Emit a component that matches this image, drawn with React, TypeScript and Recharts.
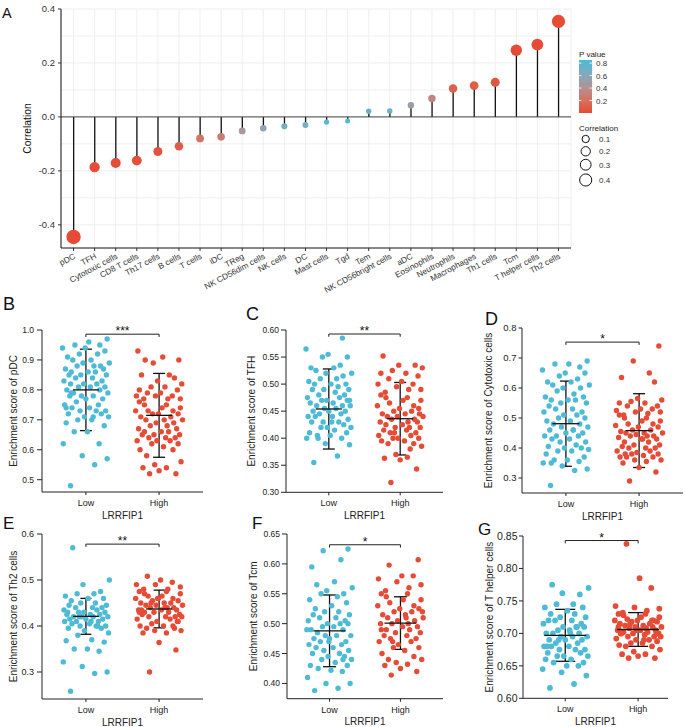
import React from 'react';
import {
  ComposedChart,
  ScatterChart,
  Scatter,
  Bar,
  Line,
  XAxis,
  YAxis,
  CartesianGrid,
  ReferenceLine,
  ReferenceArea,
  ErrorBar,
  Label,
} from 'recharts';

const FONT = '"Liberation Sans", Arial, Helvetica, sans-serif';
const BLUE = '#4DBBD5';
const RED = '#E64B35';

// ---- panel A: correlation lollipop ----
const cellTypes = [
  'pDC', 'TFH', 'Cytotoxic cells', 'CD8 T cells', 'Th17 cells', 'B cells', 'T cells', 'iDC',
  'TReg', 'NK CD56dim cells', 'NK cells', 'DC', 'Mast cells', 'Tgd', 'Tem', 'NK CD56bright cells',
  'aDC', 'Eosinophils', 'Neutrophils', 'Macrophages', 'Th1 cells', 'Tcm', 'T helper cells', 'Th2 cells',
];
const correlation = [
  -0.445, -0.186, -0.171, -0.162, -0.128, -0.109, -0.08, -0.074,
  -0.052, -0.042, -0.035, -0.03, -0.019, -0.015, 0.021, 0.022,
  0.043, 0.068, 0.105, 0.116, 0.128, 0.247, 0.268, 0.354,
];
const pValue = [
  0.0, 0.005, 0.01, 0.014, 0.05, 0.1, 0.22, 0.27,
  0.45, 0.55, 0.66, 0.7, 0.8, 0.85, 0.74, 0.72,
  0.52, 0.32, 0.12, 0.09, 0.06, 0.0, 0.0, 0.0,
];
const corTicks = [-0.4, -0.2, 0, 0.2, 0.4];
const corGrid = [-0.4, -0.3, -0.2, -0.1, 0, 0.1, 0.2, 0.3, 0.4];
const pLegendTicks = [0.8, 0.6, 0.4, 0.2];
const corLegendValues = [0.1, 0.2, 0.3, 0.4];

// ---- panels B-G: enrichment scores by LRRFIP1 group ----
const groupNames = ['Low', 'High'];

const pdcLow = [0.48, 0.55, 0.57, 0.58, 0.62, 0.62, 0.66, 0.66, 0.68, 0.69, 0.7, 0.7, 0.71, 0.71, 0.72, 0.72, 0.73, 0.73, 0.73, 0.74, 0.74, 0.75, 0.75, 0.76, 0.77, 0.77, 0.78, 0.78, 0.78, 0.79, 0.79, 0.8, 0.8, 0.81, 0.81, 0.81, 0.82, 0.82, 0.83, 0.83, 0.84, 0.84, 0.85, 0.85, 0.85, 0.86, 0.86, 0.86, 0.87, 0.87, 0.88, 0.88, 0.88, 0.89, 0.89, 0.9, 0.9, 0.91, 0.92, 0.92, 0.93, 0.94, 0.94, 0.95, 0.95, 0.96, 0.97, 0.79, 0.71, 0.74, 0.82];
const pdcHigh = [0.52, 0.52, 0.53, 0.54, 0.54, 0.55, 0.56, 0.58, 0.6, 0.6, 0.61, 0.62, 0.62, 0.63, 0.63, 0.63, 0.64, 0.64, 0.64, 0.65, 0.65, 0.65, 0.66, 0.66, 0.66, 0.67, 0.67, 0.68, 0.68, 0.69, 0.69, 0.7, 0.7, 0.7, 0.71, 0.71, 0.72, 0.72, 0.72, 0.73, 0.73, 0.73, 0.74, 0.74, 0.75, 0.75, 0.76, 0.77, 0.77, 0.77, 0.78, 0.78, 0.78, 0.79, 0.79, 0.8, 0.8, 0.81, 0.81, 0.82, 0.83, 0.84, 0.85, 0.85, 0.89, 0.9, 0.9, 0.91, 0.93];
const pdcMeanSd = [[0.8, 0.136], [0.715, 0.14]];

const tfhLow = [0.355, 0.367, 0.388, 0.39, 0.4, 0.4, 0.405, 0.405, 0.41, 0.41, 0.415, 0.42, 0.42, 0.42, 0.425, 0.43, 0.43, 0.43, 0.435, 0.44, 0.44, 0.44, 0.445, 0.445, 0.45, 0.45, 0.45, 0.455, 0.455, 0.46, 0.46, 0.46, 0.465, 0.465, 0.47, 0.47, 0.47, 0.475, 0.475, 0.48, 0.48, 0.485, 0.49, 0.49, 0.49, 0.495, 0.5, 0.5, 0.5, 0.505, 0.51, 0.51, 0.515, 0.52, 0.52, 0.525, 0.53, 0.53, 0.535, 0.55, 0.55, 0.555, 0.565, 0.585, 0.4, 0.43, 0.47];
const tfhHigh = [0.318, 0.343, 0.36, 0.363, 0.365, 0.37, 0.385, 0.39, 0.39, 0.395, 0.395, 0.4, 0.4, 0.4, 0.405, 0.405, 0.41, 0.41, 0.415, 0.415, 0.42, 0.42, 0.42, 0.425, 0.425, 0.43, 0.43, 0.43, 0.435, 0.435, 0.44, 0.44, 0.44, 0.445, 0.445, 0.45, 0.45, 0.455, 0.455, 0.46, 0.46, 0.465, 0.47, 0.47, 0.475, 0.475, 0.48, 0.485, 0.49, 0.49, 0.495, 0.5, 0.5, 0.505, 0.51, 0.515, 0.52, 0.52, 0.525, 0.53, 0.535, 0.535, 0.552, 0.38, 0.41, 0.445];
const tfhMeanSd = [[0.454, 0.074], [0.436, 0.067]];

const cytoLow = [0.275, 0.325, 0.33, 0.34, 0.35, 0.355, 0.36, 0.36, 0.37, 0.38, 0.39, 0.39, 0.395, 0.4, 0.4, 0.405, 0.41, 0.42, 0.42, 0.43, 0.43, 0.44, 0.44, 0.44, 0.45, 0.45, 0.46, 0.46, 0.47, 0.47, 0.48, 0.48, 0.49, 0.49, 0.5, 0.5, 0.51, 0.51, 0.52, 0.52, 0.53, 0.53, 0.54, 0.55, 0.55, 0.56, 0.56, 0.56, 0.57, 0.57, 0.58, 0.59, 0.6, 0.6, 0.61, 0.61, 0.62, 0.62, 0.63, 0.64, 0.65, 0.65, 0.66, 0.67, 0.68, 0.68, 0.69, 0.35, 0.46];
const cytoHigh = [0.29, 0.32, 0.335, 0.35, 0.355, 0.36, 0.36, 0.37, 0.37, 0.37, 0.375, 0.38, 0.38, 0.385, 0.39, 0.39, 0.4, 0.4, 0.4, 0.405, 0.41, 0.41, 0.42, 0.42, 0.43, 0.43, 0.435, 0.44, 0.44, 0.44, 0.445, 0.45, 0.45, 0.45, 0.455, 0.46, 0.46, 0.47, 0.47, 0.475, 0.48, 0.48, 0.49, 0.49, 0.5, 0.5, 0.51, 0.51, 0.515, 0.52, 0.52, 0.525, 0.53, 0.53, 0.54, 0.54, 0.55, 0.55, 0.555, 0.56, 0.565, 0.62, 0.635, 0.65, 0.69, 0.74, 0.38, 0.43];
const cytoMeanSd = [[0.481, 0.142], [0.458, 0.123]];

const th2Low = [0.258, 0.297, 0.3, 0.312, 0.322, 0.345, 0.35, 0.35, 0.365, 0.368, 0.37, 0.38, 0.385, 0.39, 0.395, 0.395, 0.4, 0.4, 0.4, 0.405, 0.405, 0.41, 0.41, 0.41, 0.415, 0.415, 0.415, 0.42, 0.42, 0.42, 0.42, 0.425, 0.425, 0.425, 0.43, 0.43, 0.43, 0.435, 0.435, 0.44, 0.44, 0.44, 0.445, 0.445, 0.45, 0.45, 0.455, 0.46, 0.46, 0.465, 0.47, 0.47, 0.475, 0.49, 0.5, 0.57, 0.41, 0.43, 0.4, 0.42];
const th2High = [0.3, 0.348, 0.364, 0.385, 0.385, 0.39, 0.39, 0.395, 0.4, 0.4, 0.4, 0.405, 0.41, 0.41, 0.415, 0.415, 0.42, 0.42, 0.42, 0.425, 0.425, 0.43, 0.43, 0.43, 0.435, 0.435, 0.435, 0.44, 0.44, 0.44, 0.445, 0.445, 0.445, 0.45, 0.45, 0.45, 0.455, 0.455, 0.46, 0.46, 0.46, 0.465, 0.465, 0.47, 0.47, 0.475, 0.475, 0.48, 0.48, 0.485, 0.49, 0.49, 0.495, 0.5, 0.508, 0.41, 0.43, 0.44, 0.45, 0.42, 0.46, 0.395, 0.435];
const th2MeanSd = [[0.421, 0.039], [0.437, 0.041]];

const tcmLow = [0.388, 0.392, 0.4, 0.4, 0.41, 0.42, 0.422, 0.425, 0.43, 0.43, 0.435, 0.44, 0.44, 0.445, 0.445, 0.45, 0.45, 0.455, 0.455, 0.46, 0.46, 0.465, 0.465, 0.47, 0.47, 0.475, 0.475, 0.48, 0.48, 0.48, 0.485, 0.49, 0.49, 0.495, 0.495, 0.5, 0.5, 0.5, 0.505, 0.505, 0.51, 0.51, 0.515, 0.515, 0.52, 0.52, 0.525, 0.53, 0.535, 0.54, 0.545, 0.55, 0.55, 0.555, 0.56, 0.565, 0.57, 0.595, 0.607, 0.622, 0.625, 0.47, 0.49, 0.44];
const tcmHigh = [0.414, 0.42, 0.425, 0.43, 0.432, 0.435, 0.44, 0.44, 0.445, 0.45, 0.455, 0.46, 0.46, 0.465, 0.47, 0.47, 0.475, 0.475, 0.48, 0.48, 0.485, 0.485, 0.49, 0.49, 0.495, 0.495, 0.5, 0.5, 0.5, 0.505, 0.505, 0.51, 0.51, 0.515, 0.515, 0.52, 0.52, 0.525, 0.525, 0.53, 0.53, 0.535, 0.54, 0.54, 0.545, 0.55, 0.55, 0.555, 0.56, 0.565, 0.57, 0.575, 0.58, 0.58, 0.598, 0.607, 0.49, 0.51, 0.47, 0.52];
const tcmMeanSd = [[0.488, 0.06], [0.501, 0.044]];

const thelperLow = [0.616, 0.622, 0.635, 0.64, 0.645, 0.65, 0.65, 0.655, 0.655, 0.66, 0.66, 0.665, 0.665, 0.665, 0.67, 0.67, 0.675, 0.675, 0.675, 0.68, 0.68, 0.68, 0.685, 0.685, 0.69, 0.69, 0.69, 0.695, 0.695, 0.695, 0.7, 0.7, 0.7, 0.705, 0.705, 0.71, 0.71, 0.71, 0.715, 0.715, 0.72, 0.72, 0.72, 0.725, 0.725, 0.73, 0.73, 0.735, 0.74, 0.74, 0.745, 0.745, 0.76, 0.762, 0.77, 0.775, 0.7, 0.68, 0.71, 0.69];
const thelperHigh = [0.662, 0.662, 0.665, 0.668, 0.668, 0.672, 0.675, 0.68, 0.68, 0.682, 0.685, 0.685, 0.688, 0.69, 0.69, 0.692, 0.695, 0.695, 0.698, 0.7, 0.7, 0.7, 0.702, 0.702, 0.705, 0.705, 0.705, 0.708, 0.708, 0.71, 0.71, 0.71, 0.712, 0.712, 0.715, 0.715, 0.718, 0.718, 0.72, 0.72, 0.72, 0.722, 0.725, 0.725, 0.728, 0.73, 0.73, 0.732, 0.735, 0.738, 0.74, 0.742, 0.77, 0.785, 0.838, 0.7, 0.71, 0.69, 0.715, 0.695, 0.705, 0.72, 0.7];
const thelperMeanSd = [[0.697, 0.04], [0.706, 0.026]];

// horizontal jitter of the dots, in category units
const JITTER = [-0.21, 0.12, 0.29, -0.05, -0.31, 0.18, 0.02, -0.16, 0.25, -0.27, 0.08, -0.11, 0.31, -0.02, 0.21, -0.24, 0.14, -0.08, 0.27, -0.19, 0.05, -0.29, 0.17, -0.13, 0.23, 0.0, -0.22, 0.1, -0.06, 0.3, -0.17, 0.19, -0.26, 0.06, -0.1, 0.26, -0.03, 0.15, -0.3, 0.22, -0.14, 0.09, -0.23, 0.28, -0.07, 0.13, -0.2, 0.03, 0.24, -0.28, 0.11, -0.12, 0.2, -0.04, 0.32, -0.18, 0.07, -0.25, 0.16, -0.09, 0.26, -0.01, -0.32, 0.19, -0.15, 0.04, 0.29, -0.2, 0.1, -0.27];

const panels = [
  { letter: 'B', title: 'Enrichment score of pDC', low: pdcLow, high: pdcHigh, stats: pdcMeanSd, stars: '***', sigY: 0.986,
    yDomain: [0.459, 1.0], yTicks: [0.5, 0.6, 0.7, 0.8, 0.9, 1.0], digits: 1, axisX: 42, right: 203, top: 330, bottom: 492,
    xDomain: [-0.6, 1.6], titleGap: 28.5, tickSize: 5, tickMargin: 3, tickFont: 8.5, half: 13, cap: 6 },
  { letter: 'C', title: 'Enrichment score of TFH', low: tfhLow, high: tfhHigh, stats: tfhMeanSd, stars: '**', sigY: 0.5926,
    yDomain: [0.3, 0.6], yTicks: [0.3, 0.35, 0.4, 0.45, 0.5, 0.55, 0.6], digits: 2, axisX: 286, right: 443, top: 330, bottom: 492.3,
    xDomain: [-0.6, 1.6], titleGap: 34, tickSize: 5, tickMargin: 2, tickFont: 8.5, half: 13, cap: 6 },
  { letter: 'D', title: 'Enrichment score of Cytotoxic cells', low: cytoLow, high: cytoHigh, stats: cytoMeanSd, stars: '*', sigY: 0.753,
    yDomain: [0.25, 0.8], yTicks: [0.3, 0.4, 0.5, 0.6, 0.7, 0.8], digits: 1, axisX: 522, right: 683, top: 327.7, bottom: 492.7,
    xDomain: [-0.6, 1.6], titleGap: 34, tickSize: 3.5, tickMargin: 2, tickFont: 9.5, half: 13.5, cap: 6 },
  { letter: 'E', title: 'Enrichment score of Th2 cells', low: th2Low, high: th2High, stats: th2MeanSd, stars: '**', sigY: 0.578,
    yDomain: [0.2413, 0.6], yTicks: [0.3, 0.4, 0.5, 0.6], digits: 1, axisX: 42, right: 203, top: 534, bottom: 699,
    xDomain: [-0.6, 1.6], titleGap: 29, tickSize: 5, tickMargin: 3, tickFont: 9, half: 13, cap: 5.5 },
  { letter: 'F', title: 'Enrichment score of Tcm', low: tcmLow, high: tcmHigh, stats: tcmMeanSd, stars: '*', sigY: 0.632,
    yDomain: [0.3745, 0.65], yTicks: [0.4, 0.45, 0.5, 0.55, 0.6, 0.65], digits: 2, axisX: 287, right: 443, top: 534.3, bottom: 699,
    xDomain: [-0.6, 1.6], titleGap: 34, tickSize: 5, tickMargin: 2, tickFont: 8.5, half: 16, cap: 6.5 },
  { letter: 'G', title: 'Enrichment score of T helper cells', low: thelperLow, high: thelperHigh, stats: thelperMeanSd, stars: '*', sigY: 0.843,
    yDomain: [0.6, 0.85], yTicks: [0.6, 0.65, 0.7, 0.75, 0.8, 0.85], digits: 2, axisX: 523, right: 668, top: 536, bottom: 698.3,
    xDomain: [-0.58, 1.41], titleGap: 33, tickSize: 4, tickMargin: 1.5, tickFont: 10.5, half: 21, cap: 10 },
];

const letters = [
  { t: 'A', x: 2, y: 18, s: 14.5 },
  { t: 'B', x: 3, y: 310, s: 18 },
  { t: 'C', x: 246, y: 319.5, s: 18 },
  { t: 'D', x: 485, y: 325, s: 18 },
  { t: 'E', x: 3, y: 528.5, s: 17 },
  { t: 'F', x: 252, y: 528.5, s: 17 },
  { t: 'G', x: 478, y: 535, s: 17 },
];

// p value colour ramp (red = significant, blue = not)
const pStops: [number, number[]][] = [
  [0, [230, 75, 53]],
  [0.2, [214, 112, 94]],
  [0.4, [182, 144, 144]],
  [0.6, [134, 168, 186]],
  [0.85, [77, 187, 213]],
];
function pColor(p: number) {
  for (let i = 1; i < pStops.length; i++) {
    if (p <= pStops[i][0] || i === pStops.length - 1) {
      const [p0, c0] = pStops[i - 1];
      const [p1, c1] = pStops[i];
      const t = Math.max(0, Math.min(1, (p - p0) / (p1 - p0)));
      const c = c0.map((v, k) => Math.round(v + (c1[k] - v) * t));
      return `rgb(${c[0]},${c[1]},${c[2]})`;
    }
  }
  return BLUE;
}
const corRadius = (c: number) => 1.45 + 8.6 * Math.sqrt(Math.abs(c));

const lollipopData = cellTypes.map((name, i) => ({ name, cor: correlation[i], p: pValue[i] }));

function AngledTick({ x, y, payload }: any) {
  const px = x + 2.5;
  const py = y + 5;
  return (
    <text x={px} y={py} textAnchor="end" fontSize={8.3} fill="#333" fontFamily={FONT}
      transform={`rotate(-28, ${px}, ${py})`}>
      {payload.value}
    </text>
  );
}

function LollipopDot(props: any) {
  const { cx, cy, payload } = props;
  if (cx == null || cy == null) return null;
  return <circle cx={cx} cy={cy} r={corRadius(payload.cor)} fill={pColor(payload.p)} />;
}

function CorrelationPanel() {
  return (
    <div style={{ position: 'absolute', left: 0, top: 0 }}>
      <ComposedChart width={685} height={330} data={lollipopData} margin={{ top: 9, right: 114, bottom: 0, left: 0 }}>
        <CartesianGrid stroke="#EBEBEB" strokeWidth={0.8} horizontalValues={corGrid} />
        <XAxis dataKey="name" type="category" interval={0} height={82} tickSize={3} tickMargin={2}
          padding={{ left: 2, right: 2 }}
          tick={<AngledTick />} axisLine={{ stroke: '#111' }} tickLine={{ stroke: '#333' }} />
        <YAxis type="number" domain={[-0.486, 0.4]} ticks={corTicks} width={61} tickSize={3} tickMargin={3}
          tickFormatter={(v: number) => v.toFixed(1)}
          tick={{ fontSize: 9.5, fill: '#333', fontFamily: FONT }} axisLine={{ stroke: '#111' }} tickLine={{ stroke: '#333' }}>
          <Label content={({ viewBox }: any) => {
            const cx = viewBox.x + 27.5;
            const cy = viewBox.y + viewBox.height / 2;
            return (
              <text x={cx} y={cy} transform={`rotate(-90, ${cx}, ${cy})`} textAnchor="middle" dominantBaseline="central"
                fontSize={10.3} fill="#111" fontFamily={FONT}>Correlation</text>
            );
          }} />
        </YAxis>
        <ReferenceLine y={0} stroke="#444" strokeWidth={1} />
        <Bar dataKey="cor" barSize={1.3} fill="#111" isAnimationActive={false} />
        <Line dataKey="cor" stroke="none" dot={<LollipopDot />} activeDot={false} isAnimationActive={false} />
        <ReferenceArea fill="none" stroke="#111" strokeWidth={1} />
      </ComposedChart>
    </div>
  );
}

function GroupPanel({ cfg }: any) {
  const chartLeft = cfg.axisX - 42;
  const chartTop = cfg.top - 22;
  const width = cfg.right - chartLeft + 4;
  const height = cfg.bottom - chartTop + 32;
  const lowPts = cfg.low.map((y: number, i: number) => ({ x: JITTER[i % JITTER.length], y }));
  const highPts = cfg.high.map((y: number, i: number) => ({ x: 1 + JITTER[(i + 23) % JITTER.length], y }));
  const pxPerUnit = (cfg.bottom - cfg.top) / (cfg.yDomain[1] - cfg.yDomain[0]);
  const drop = 2.8 / pxPerUnit;
  const bracket = [
    { x: 0, y: cfg.sigY - drop },
    { x: 0, y: cfg.sigY },
    { x: 1, y: cfg.sigY },
    { x: 1, y: cfg.sigY - drop },
  ];
  const stats = cfg.stats.map((s: number[], i: number) => ({ x: i, y: s[0], err: s[1] }));
  const dot = (fill: string) => (p: any) => <circle cx={p.cx} cy={p.cy} r={cfg.letter === 'G' ? 2.9 : 2.7} fill={fill} />;
  return (
    <div style={{ position: 'absolute', left: chartLeft, top: chartTop }}>
      <ScatterChart width={width} height={height} margin={{ top: 22, right: 4, bottom: 0, left: 0 }}>
        <XAxis type="number" dataKey="x" domain={cfg.xDomain} ticks={[0, 1]} height={32}
          tickFormatter={(v: number) => groupNames[v]} tickSize={3} tickMargin={4.5}
          tick={{ fontSize: 9, fill: '#222', fontFamily: FONT }} axisLine={{ stroke: '#222' }} tickLine={{ stroke: '#222' }}>
          <Label value="LRRFIP1" position="insideBottom" offset={5.5} fontSize={10} fill="#222" fontFamily={FONT} />
        </XAxis>
        <YAxis type="number" dataKey="y" domain={cfg.yDomain} ticks={cfg.yTicks} width={42}
          tickSize={cfg.tickSize} tickMargin={cfg.tickMargin} tickFormatter={(v: number) => v.toFixed(cfg.digits)}
          tick={{ fontSize: cfg.tickFont, fill: '#222', fontFamily: FONT }} axisLine={{ stroke: '#222' }} tickLine={{ stroke: '#222' }}>
          <Label content={({ viewBox }: any) => {
            const cx = viewBox.x + 42 - cfg.titleGap;
            const cy = viewBox.y + viewBox.height / 2;
            return (
              <text x={cx} y={cy} transform={`rotate(-90, ${cx}, ${cy})`} textAnchor="middle" dominantBaseline="central"
                fontSize={10} fill="#222" fontFamily={FONT}>{cfg.title}</text>
            );
          }} />
        </YAxis>
        <Scatter data={lowPts} fill={BLUE} shape={dot(BLUE)} isAnimationActive={false} />
        <Scatter data={highPts} fill={RED} shape={dot(RED)} isAnimationActive={false} />
        <Scatter data={stats} fill="#111" isAnimationActive={false}
          shape={(p: any) => <line x1={p.cx - cfg.half} x2={p.cx + cfg.half} y1={p.cy} y2={p.cy} stroke="#111" strokeWidth={1.3} />}>
          <ErrorBar dataKey="err" direction="y" width={cfg.cap} stroke="#111" strokeWidth={1.3} />
        </Scatter>
        <Scatter data={bracket} fill="#222" line={{ stroke: '#222', strokeWidth: 1 }} shape={() => <g />} isAnimationActive={false} />
        <Scatter data={[{ x: 0.5, y: cfg.sigY }]} fill="#111" isAnimationActive={false}
          shape={(p: any) => (
            <text x={p.cx} y={p.cy + 1} textAnchor="middle" fontSize={12} fill="#111" fontFamily={FONT}>{cfg.stars}</text>
          )} />
      </ScatterChart>
    </div>
  );
}

function Overlay() {
  const barTop = 60;
  const barBottom = 113;
  const pToY = (p: number) => barBottom - (p / 0.85) * (barBottom - barTop);
  const circleY = [139, 151.3, 164.7, 180];
  return (
    <svg width={685} height={727} style={{ position: 'absolute', left: 0, top: 0, pointerEvents: 'none' }}>
      <defs>
        <linearGradient id="pgrad" x1="0" y1="1" x2="0" y2="0">
          {pStops.map(([p, c]) => (
            <stop key={p} offset={p / 0.85} stopColor={`rgb(${c[0]},${c[1]},${c[2]})`} />
          ))}
        </linearGradient>
      </defs>
      {letters.map((l) => (
        <text key={l.t} x={l.x} y={l.y} fontSize={l.s} fill="#111" fontFamily={FONT}>{l.t}</text>
      ))}
      <text x={579} y={57} fontSize={8} fill="#222" fontFamily={FONT}>P value</text>
      <rect x={579} y={barTop} width={13} height={barBottom - barTop} fill="url(#pgrad)" />
      {pLegendTicks.map((p) => (
        <g key={p}>
          <line x1={579} x2={581.5} y1={pToY(p)} y2={pToY(p)} stroke="#fff" strokeWidth={0.8} />
          <line x1={589.5} x2={592} y1={pToY(p)} y2={pToY(p)} stroke="#fff" strokeWidth={0.8} />
          <text x={596} y={pToY(p) + 3} fontSize={8} fill="#333" fontFamily={FONT}>{p.toFixed(1)}</text>
        </g>
      ))}
      <text x={579} y={131} fontSize={8} fill="#222" fontFamily={FONT}>Correlation</text>
      {corLegendValues.map((v, i) => (
        <g key={v}>
          <circle cx={585.7} cy={circleY[i]} r={corRadius(v) * 0.88} fill="none" stroke="#111" strokeWidth={1} />
          <text x={599} y={circleY[i] + 3} fontSize={8} fill="#333" fontFamily={FONT}>{v.toFixed(1)}</text>
        </g>
      ))}
    </svg>
  );
}

export default function App() {
  return (
    <div style={{ position: 'absolute', left: 0, top: 0, width: 685, height: 727, background: '#fff', fontFamily: FONT, overflow: 'hidden' }}>
      <CorrelationPanel />
      {panels.map((cfg) => (
        <GroupPanel key={cfg.letter} cfg={cfg} />
      ))}
      <Overlay />
    </div>
  );
}
